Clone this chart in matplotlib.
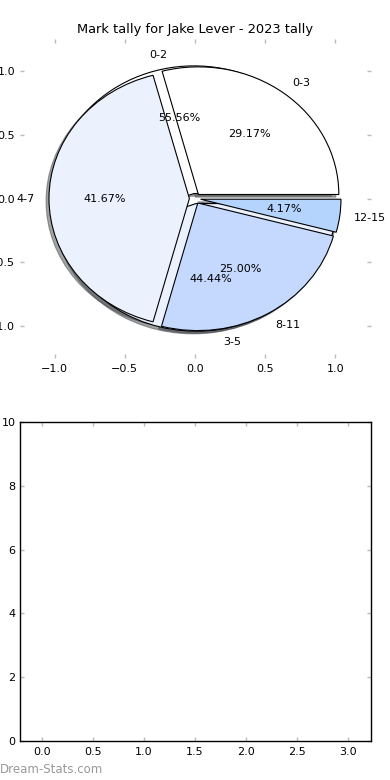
import matplotlib
matplotlib.use("Agg")
import matplotlib.pyplot as plt

title = "Mark tally for Jake Lever - 2023 tally"
labels_a = ["0-3", "4-7", "8-11", "12-15"]
values_a = [7, 10, 6, 1]
labels_b = ["0-2", "3-5"]
values_b = [5, 4]
colors = ["#FFFFFF", "#EBF2FE", "#C5D9FE", "#B4D4FE"]
pie_ticks = [-1.0, -0.5, 0.0, 0.5, 1.0]
bottom_xticks = [0.0, 0.5, 1.0, 1.5, 2.0, 2.5, 3.0]
bottom_yticks = [0, 2, 4, 6, 8, 10]

plt.rcParams["font.family"] = ["DejaVu Sans"]
plt.rcParams["font.size"] = 8

fig = plt.figure(figsize=(3.9, 7.8), dpi=100)
fig.subplots_adjust(left=0.05, right=0.95, top=0.95, bottom=0.05, hspace=0.2)

shadow = {"ox": -0.015, "oy": -0.015}

ax1 = fig.add_subplot(2, 1, 1)
ax1.pie(values_b, labels=labels_b, colors=colors[:2], explode=[0.04] * len(values_b),
        autopct="%1.2f%%", shadow=shadow, frame=True,
        wedgeprops={"edgecolor": "black", "linewidth": 0.8},
        textprops={"fontsize": 8})
ax1.pie(values_a, labels=labels_a, colors=colors, explode=[0.04] * len(values_a),
        autopct="%1.2f%%", shadow=shadow, frame=True,
        wedgeprops={"edgecolor": "black", "linewidth": 0.8},
        textprops={"fontsize": 8})
ax1.set_aspect("auto")
ax1.set_xlim(-1.25, 1.25)
ax1.set_ylim(-1.25, 1.25)
ax1.set_xticks(pie_ticks)
ax1.set_yticks(pie_ticks)
ax1.set_frame_on(False)
ax1.set_title(title, fontsize=9.4, pad=4)

ax2 = fig.add_subplot(2, 1, 2)
ax2.set_xlim(-0.22, 3.22)
ax2.set_ylim(0, 10)
ax2.set_xticks(bottom_xticks)
ax2.set_yticks(bottom_yticks)
for sp in ax2.spines.values():
    sp.set_linewidth(1.0)

for ax in (ax1, ax2):
    ax.tick_params(direction="in", length=3, width=1, color="#BBBBBB",
                   top=True, right=True, labelsize=8)
    ax.tick_params(axis="x", pad=4)
    ax.tick_params(axis="y", pad=3)

fig.text(0.0, 0.005, "Dream-Stats.com", color="#999999", fontsize=8.5,
         ha="left", va="bottom")

fig.savefig("out.png", dpi=100)
